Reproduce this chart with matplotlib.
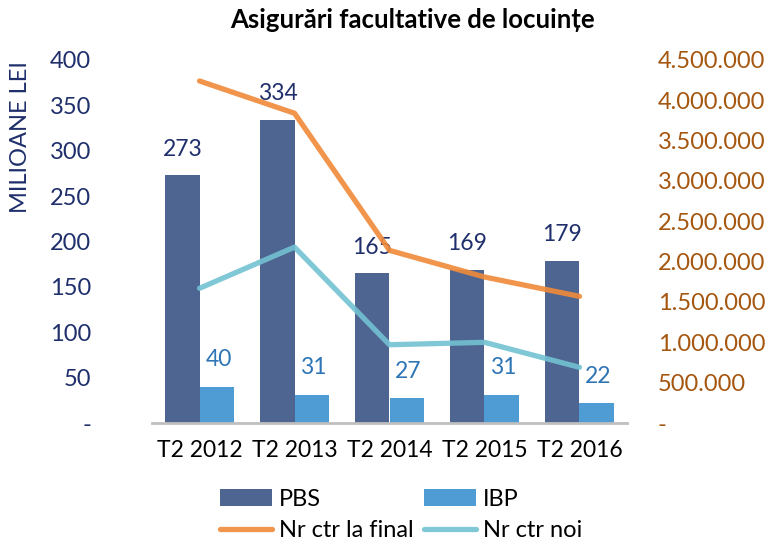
import matplotlib
matplotlib.use("Agg")
import matplotlib.pyplot as plt
import numpy as np

categories = ["T2 2012", "T2 2013", "T2 2014", "T2 2015", "T2 2016"]
pbs = [273, 334, 165, 169, 179]
ibp = [40, 31, 27, 31, 22]
nr_final = [4240000, 3840000, 2140000, 1810000, 1570000]
nr_noi = [1670000, 2180000, 970000, 1000000, 690000]

plt.rcParams['font.family'] = ['Lato', 'DejaVu Sans']

fig = plt.figure(figsize=(7.73, 5.43), dpi=100)
ax = fig.add_axes([152/773, 1-423/543, (627-152)/773, (423-60)/543])
ax2 = ax.twinx()

x = np.arange(len(categories))
w = 0.36
navy = "#1F2F6B"
c_pbs = "#4E6591"
c_ibp = "#4F9BD4"
c_or = "#F08A3A"
c_cy = "#73C2D3"

b1 = ax.bar(x - w/2, pbs, w, color=c_pbs, label="PBS", zorder=2)
b2 = ax.bar(x + w/2, ibp, w, color=c_ibp, label="IBP", zorder=2)
for xi, v in zip(x, pbs):
    ax.annotate(str(v), (xi - w/2, v), xytext=(0, 26), textcoords="offset pixels",
                ha="center", va="center", fontsize=16.5, color=navy)
for xi, v in zip(x, ibp):
    ax.annotate(str(v), (xi + w/2, v), xytext=(2, 27), textcoords="offset pixels",
                ha="center", va="center", fontsize=16.5, color="#2E75B6")

l1, = ax2.plot(x, nr_final, color=c_or, lw=3.8, alpha=0.9, solid_capstyle="round", label="Nr ctr la final")
l2, = ax2.plot(x, nr_noi, color=c_cy, lw=3.8, alpha=0.9, solid_capstyle="round", label="Nr ctr noi")

ax.set_xlim(-0.5, 4.5)
ax.set_ylim(0, 400)
ax2.set_ylim(0, 4500000)
ax.set_yticks(range(0, 401, 50))
ax.set_yticklabels(["-"] + [str(v) for v in range(50, 401, 50)])
ax2.set_yticks(range(0, 4500001, 500000))
ax2.set_yticklabels(["-"] + [f"{v:,}".replace(",", ".") for v in range(500000, 4500001, 500000)])
ax.set_xticks(x)
ax.set_xticklabels(categories, fontsize=16.5)

for a in (ax, ax2):
    for s in a.spines.values():
        s.set_visible(False)
ax.spines['bottom'].set_visible(True)
ax.spines['bottom'].set_color("#BFBFBF")
ax.spines['bottom'].set_linewidth(2)
ax.tick_params(axis='x', length=0, pad=12)
ax.tick_params(axis='y', length=0, pad=44, labelsize=17, labelcolor=navy)
ax2.tick_params(axis='y', length=0, pad=22, labelsize=17, labelcolor="#A5560F")

fig.text(21/773, 1-137/543, "MILIOANE LEI", rotation=90, ha="center", va="center",
         fontsize=17, color=navy)
fig.text(412/773, 1-20/543, "Asigurări facultative de locuințe", ha="center", va="center",
         fontsize=18.5, fontweight="bold", color="black")

fig.legend([b1, l1, b2, l2], ["PBS", "Nr ctr la final", "IBP", "Nr ctr noi"],
           ncol=2, loc="center", bbox_to_anchor=(401/773, 1-515/543), frameon=False,
           fontsize=17, handlelength=2.2, handletextpad=0.3, columnspacing=0.45,
           labelspacing=0.45, borderpad=0)

fig.savefig("out.png", dpi=100)
